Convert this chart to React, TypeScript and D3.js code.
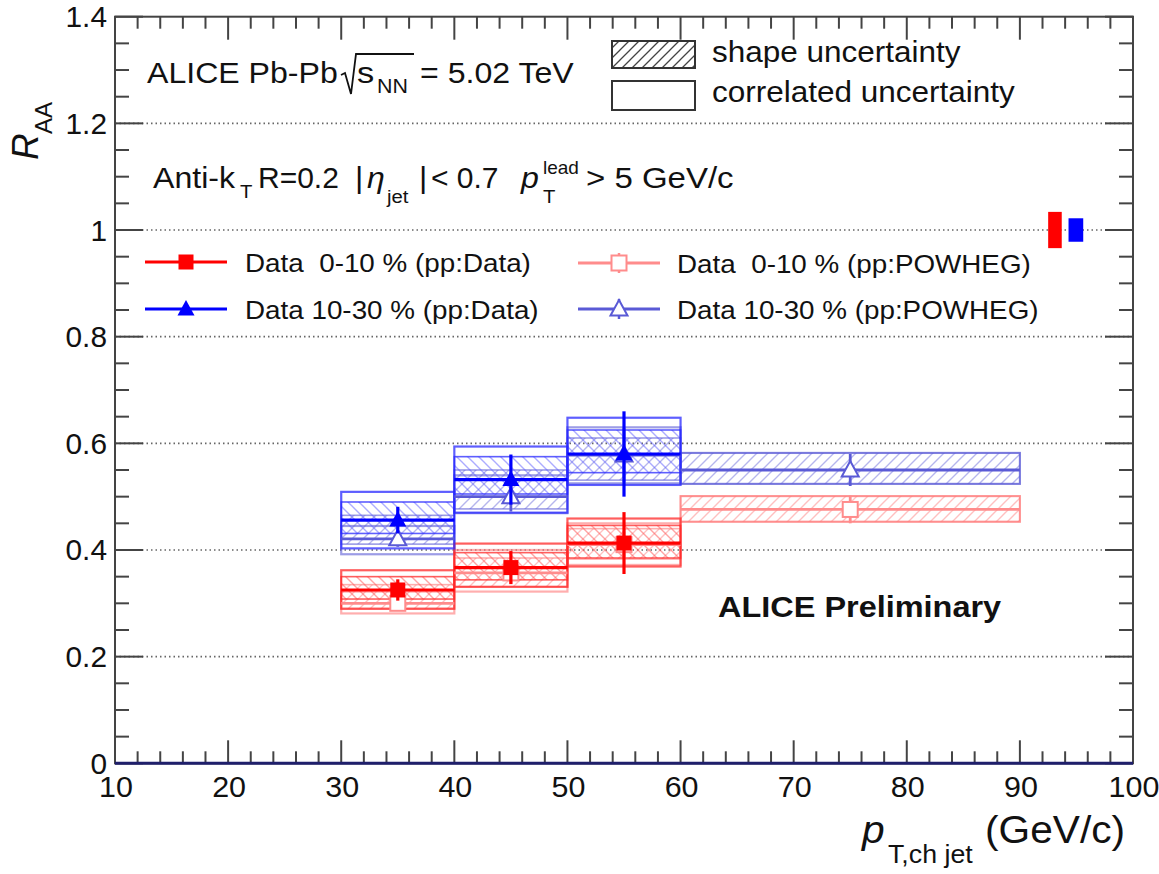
import React from 'react';
import * as d3 from 'd3';

const W = 1159;
const H = 874;

// ---- binning ----
const binLow = [30, 40, 50, 60];
const binHigh = [40, 50, 60, 90];
const binCenter = [35, 45, 55, 75];

// ---- 0-10 % (pp:Data) ----
const c010DataVal = [0.325, 0.367, 0.413];
const c010DataStat = [0.02, 0.031, 0.058];
const c010DataShapeLo = [0.308, 0.344, 0.385];
const c010DataShapeHi = [0.35, 0.395, 0.446];
const c010DataCorrLo = [0.29, 0.331, 0.369];
const c010DataCorrHi = [0.362, 0.412, 0.459];

// ---- 0-10 % (pp:POWHEG) ----
const c010PowVal = [0.3, 0.357, 0.41, 0.476];
const c010PowStat = [0.012, 0.02, 0.025, 0.026];
const c010PowShapeLo = [0.289, 0.331, 0.383, 0.453];
const c010PowShapeHi = [0.335, 0.385, 0.44, 0.501];
const c010PowCorrLo = [0.281, 0.322, 0.372, 0.453];
const c010PowCorrHi = [0.322, 0.4, 0.45, 0.501];

// ---- 10-30 % (pp:Data) ----
const c1030DataVal = [0.456, 0.532, 0.58];
const c1030DataStat = [0.025, 0.047, 0.08];
const c1030DataShapeLo = [0.431, 0.505, 0.545];
const c1030DataShapeHi = [0.49, 0.575, 0.625];
const c1030DataCorrLo = [0.403, 0.47, 0.522];
const c1030DataCorrHi = [0.509, 0.594, 0.648];

// ---- 10-30 % (pp:POWHEG) ----
const c1030PowVal = [0.421, 0.5, 0.578, 0.55];
const c1030PowStat = [0.015, 0.028, 0.05, 0.03];
const c1030PowShapeLo = [0.411, 0.477, 0.531, 0.524];
const c1030PowShapeHi = [0.465, 0.55, 0.61, 0.582];
const c1030PowCorrLo = [0.392, 0.469, 0.525, 0.524];
const c1030PowCorrHi = [0.445, 0.54, 0.63, 0.582];

// ---- normalisation uncertainties at RAA = 1 ----
const normX = [93.1, 94.95];
const normHalfW = [0.6, 0.65];
const normErr = [0.034, 0.022];
const normColor = ['#ff0000', '#0000ff'];

// ---- axes ----
const xTickValues = [10, 20, 30, 40, 50, 60, 70, 80, 90, 100];
const xTickLabels = ['10', '20', '30', '40', '50', '60', '70', '80', '90', '100'];
const yTickValues = [0, 0.2, 0.4, 0.6, 0.8, 1.0, 1.2, 1.4];
const yTickLabels = ['0', '0.2', '0.4', '0.6', '0.8', '1', '1.2', '1.4'];
const gridValues = [0.2, 0.4, 0.6, 0.8, 1.0, 1.2];

const legendLabels = [
  'Data  0-10 % (pp:Data)',
  'Data 10-30 % (pp:Data)',
  'Data  0-10 % (pp:POWHEG)',
  'Data 10-30 % (pp:POWHEG)',
];

const x = d3.scaleLinear().domain([10, 100]).range([115, 1133]);
const y = d3.scaleLinear().domain([0, 1.4]).range([763.3, 16.7]);

const FONT = "'Liberation Sans', Arial, Helvetica, sans-serif";

type Series = {
  val: number[];
  stat: number[];
  shLo: number[];
  shHi: number[];
  coLo: number[];
  coHi: number[];
  line: string;
  box: string;
  pattern: string;
  marker: 'sq' | 'tri';
  open: boolean;
  lw: number;
};

const sRedData: Series = {
  val: c010DataVal, stat: c010DataStat, shLo: c010DataShapeLo, shHi: c010DataShapeHi,
  coLo: c010DataCorrLo, coHi: c010DataCorrHi, line: '#ff0000', box: 'rgba(255,40,40,0.75)',
  pattern: 'hRedData', marker: 'sq', open: false, lw: 3.2,
};
const sRedPow: Series = {
  val: c010PowVal, stat: c010PowStat, shLo: c010PowShapeLo, shHi: c010PowShapeHi,
  coLo: c010PowCorrLo, coHi: c010PowCorrHi, line: '#ff8c8c', box: 'rgba(255,120,120,0.6)',
  pattern: 'hRedPow', marker: 'sq', open: true, lw: 2.8,
};
const sBlueData: Series = {
  val: c1030DataVal, stat: c1030DataStat, shLo: c1030DataShapeLo, shHi: c1030DataShapeHi,
  coLo: c1030DataCorrLo, coHi: c1030DataCorrHi, line: '#0000ff', box: 'rgba(40,40,255,0.75)',
  pattern: 'hBlueData', marker: 'tri', open: false, lw: 3.2,
};
const sBluePow: Series = {
  val: c1030PowVal, stat: c1030PowStat, shLo: c1030PowShapeLo, shHi: c1030PowShapeHi,
  coLo: c1030PowCorrLo, coHi: c1030PowCorrHi, line: '#5a5ad6', box: 'rgba(90,90,214,0.6)',
  pattern: 'hBluePow', marker: 'tri', open: true, lw: 2.8,
};

function T(props: {
  x: number; y: number; size: number; sx?: number; anchor?: string;
  italic?: boolean; bold?: boolean; fill?: string; children: React.ReactNode;
}) {
  const { x: tx, y: ty, size, sx = 1.07, anchor = 'start', italic = false, bold = false, fill = '#111', children } = props;
  return (
    <text
      transform={`translate(${tx},${ty}) scale(${sx},1)`}
      fontSize={size}
      textAnchor={anchor as any}
      fontStyle={italic ? 'italic' : 'normal'}
      fontWeight={bold ? 'bold' : 'normal'}
      fill={fill}
      fontFamily={FONT}
      xmlSpace="preserve"
      style={{ whiteSpace: 'pre' }}
    >
      {children}
    </text>
  );
}

function Marker(props: { cx: number; cy: number; kind: 'sq' | 'tri'; open: boolean; color: string }) {
  const { cx, cy, kind, open, color } = props;
  if (kind === 'sq') {
    const s = 15;
    return (
      <rect x={cx - s / 2} y={cy - s / 2} width={s} height={s}
        fill={open ? '#fff' : color} stroke={color} strokeWidth={open ? 2 : 0} />
    );
  }
  const hw = 8.5;
  const pts = `${cx},${cy - 9} ${cx + hw},${cy + 6.5} ${cx - hw},${cy + 6.5}`;
  return <polygon points={pts} fill={open ? '#fff' : color} stroke={color} strokeWidth={open ? 2 : 0} />;
}

function Boxes({ s }: { s: Series }) {
  return (
    <g>
      {s.val.map((_, i) => (
        <g key={i}>
          <rect x={x(binLow[i])} width={x(binHigh[i]) - x(binLow[i])}
            y={y(s.shHi[i])} height={y(s.shLo[i]) - y(s.shHi[i])}
            fill={`url(#${s.pattern})`} stroke={s.box} strokeWidth={1.6} />
          <rect x={x(binLow[i])} width={x(binHigh[i]) - x(binLow[i])}
            y={y(s.coHi[i])} height={y(s.coLo[i]) - y(s.coHi[i])}
            fill="none" stroke={s.box} strokeWidth={2.2} />
        </g>
      ))}
    </g>
  );
}

function Points({ s }: { s: Series }) {
  return (
    <g>
      {s.val.map((v, i) => (
        <g key={i}>
          <line x1={x(binLow[i])} x2={x(binHigh[i])} y1={y(v)} y2={y(v)} stroke={s.line} strokeWidth={s.lw} />
          <line x1={x(binCenter[i])} x2={x(binCenter[i])} y1={y(v + s.stat[i])} y2={y(v - s.stat[i])}
            stroke={s.line} strokeWidth={s.lw} />
          <Marker cx={x(binCenter[i])} cy={y(v)} kind={s.marker} open={s.open} color={s.line} />
        </g>
      ))}
    </g>
  );
}

function Hatch({ id, color, dir, w = 1.4, size = 11 }: { id: string; color: string; dir: 'back' | 'fwd'; w?: number; size?: number }) {
  const d = dir === 'back'
    ? `M0,0 L${size},${size} M${-size / 2},${size / 2} L${size / 2},${size * 1.5} M${size / 2},${-size / 2} L${size * 1.5},${size / 2}`
    : `M0,${size} L${size},0 M${-size / 2},${size / 2} L${size / 2},${-size / 2} M${size / 2},${size * 1.5} L${size * 1.5},${size / 2}`;
  return (
    <pattern id={id} patternUnits="userSpaceOnUse" width={size} height={size}>
      <path d={d} stroke={color} strokeWidth={w} />
    </pattern>
  );
}

export default function App() {
  const xL = x(10), xR = x(100), yB = y(0), yT = y(1.4);
  const yMinor = d3.range(0, 1.4001, 0.05);
  const xMinor = d3.range(10, 100.001, 2);

  const legendRows = [
    { s: sRedData, lx1: 145, lx2: 227, mx: 186, ty: 262, tx: 245, label: legendLabels[0] },
    { s: sBlueData, lx1: 145, lx2: 227, mx: 186, ty: 309, tx: 245, label: legendLabels[1] },
    { s: sRedPow, lx1: 578, lx2: 660, mx: 619, ty: 263, tx: 677, label: legendLabels[2] },
    { s: sBluePow, lx1: 578, lx2: 660, mx: 619, ty: 309, tx: 677, label: legendLabels[3] },
  ];

  return (
    <svg width={W} height={H} style={{ position: 'absolute', left: 0, top: 0, background: '#fff' }}>
      <defs>
        <Hatch id="hRedData" color="rgba(255,90,90,0.55)" dir="back" />
        <Hatch id="hRedPow" color="rgba(255,130,130,0.5)" dir="fwd" />
        <Hatch id="hBlueData" color="rgba(90,90,255,0.5)" dir="back" />
        <Hatch id="hBluePow" color="rgba(110,110,220,0.5)" dir="fwd" />
        <Hatch id="hLegend" color="#444" dir="fwd" w={1.3} size={10} />
      </defs>
      <rect x={0} y={0} width={W} height={H} fill="#fff" />

      {/* grid */}
      {gridValues.map((g) => (
        <line key={g} x1={xL} x2={xR} y1={y(g)} y2={y(g)} stroke="#666" strokeWidth={1.6} strokeDasharray="1.5 3" />
      ))}

      {/* boxes */}
      <Boxes s={sRedPow} />
      <Boxes s={sBluePow} />
      <Boxes s={sRedData} />
      <Boxes s={sBlueData} />

      {/* points */}
      <Points s={sRedPow} />
      <Points s={sBluePow} />
      <Points s={sRedData} />
      <Points s={sBlueData} />

      {/* normalisation boxes */}
      {normX.map((nx, i) => (
        <rect key={i} x={x(nx - normHalfW[i])} width={x(nx + normHalfW[i]) - x(nx - normHalfW[i])}
          y={y(1 + normErr[i])} height={y(1 - normErr[i]) - y(1 + normErr[i])} fill={normColor[i]} />
      ))}

      {/* frame & ticks */}
      <rect x={xL} y={yT} width={xR - xL} height={yB - yT} fill="none" stroke="#444" strokeWidth={2} />
      {yMinor.map((v, i) => {
        const major = i % 4 === 0;
        const len = major ? 28 : 14;
        return (
          <g key={'y' + i}>
            <line x1={xL} x2={xL + len} y1={y(v)} y2={y(v)} stroke="#444" strokeWidth={2} />
            <line x1={xR} x2={xR - len} y1={y(v)} y2={y(v)} stroke="#444" strokeWidth={2} />
          </g>
        );
      })}
      {xMinor.map((v, i) => {
        const major = i % 5 === 0;
        const len = major ? 23 : 12;
        return (
          <g key={'x' + i}>
            <line x1={x(v)} x2={x(v)} y1={yB} y2={yB - len} stroke="#444" strokeWidth={2} />
            <line x1={x(v)} x2={x(v)} y1={yT} y2={yT + len} stroke="#444" strokeWidth={2} />
          </g>
        );
      })}
      <line x1={xL} x2={xR} y1={yB} y2={yB} stroke="#1f1f6b" strokeWidth={3} />

      {/* tick labels */}
      {yTickValues.map((v, i) => (
        <T key={'yl' + i} x={107} y={y(v) + 10.5} size={29} sx={1.03} anchor="end">{yTickLabels[i]}</T>
      ))}
      {xTickValues.map((v, i) => (
        <T key={'xl' + i} x={x(v) + 1} y={797} size={29} sx={1.05} anchor="middle">{xTickLabels[i]}</T>
      ))}

      {/* axis titles */}
      <g transform="translate(38,160) rotate(-90)">
        <text x={0} y={0} fontSize={37} fontStyle="italic" fontFamily={FONT} fill="#111">R</text>
        <text x={26} y={14} fontSize={24} fontFamily={FONT} fill="#111">AA</text>
      </g>
      <T x={862} y={843} size={38} italic>p</T>
      <T x={888} y={863} size={25}>T,ch jet</T>
      <T x={985} y={843} size={38}>(GeV/c)</T>

      {/* header text */}
      <T x={147} y={83} size={30}>ALICE Pb-Pb</T>
      <path d="M341,75 L345,73 L351,94 L356,54 L414,54" fill="none" stroke="#111" strokeWidth={1.8} />
      <T x={357} y={83} size={30} sx={1.15}>s</T>
      <T x={377} y={93} size={20}>NN</T>
      <T x={420} y={83} size={30}>= 5.02 TeV</T>

      <T x={153} y={188} size={30}>Anti-k</T>
      <T x={240} y={198} size={19}>T</T>
      <T x={258} y={188} size={30} sx={1.0}>R=0.2</T>
      <T x={355} y={188} size={30}>|</T>
      <T x={367} y={188} size={30} italic>η</T>
      <T x={387} y={203} size={19}>jet</T>
      <T x={419} y={188} size={30}>|</T>
      <T x={431} y={188} size={30} sx={1.0}>{'< 0.7'}</T>
      <T x={521} y={188} size={30} italic>p</T>
      <T x={543} y={174} size={19} sx={1.0}>lead</T>
      <T x={543} y={203} size={19}>T</T>
      <T x={586} y={188} size={30} sx={1.1}>{'> 5 GeV/c'}</T>

      {/* uncertainty legend */}
      <rect x={612} y={41} width={83} height={27} fill="url(#hLegend)" stroke="#333" strokeWidth={2} />
      <rect x={612} y={81} width={83} height={29} fill="#fff" stroke="#333" strokeWidth={2} />
      <T x={712} y={62} size={30} sx={1.05}>shape uncertainty</T>
      <T x={712} y={102} size={30} sx={1.05}>correlated uncertainty</T>

      {/* series legend */}
      {legendRows.map((r, i) => (
        <g key={'lg' + i}>
          <line x1={r.lx1} x2={r.lx2} y1={r.ty} y2={r.ty} stroke={r.s.line} strokeWidth={3} />
          {r.s.open && (
            <line x1={r.mx} x2={r.mx} y1={r.ty - 10} y2={r.ty + 10} stroke={r.s.line} strokeWidth={2.5} />
          )}
          <Marker cx={r.mx} cy={r.ty} kind={r.s.marker} open={r.s.open} color={r.s.line} />
          <T x={r.tx} y={r.ty + 10} size={26}>{r.label}</T>
        </g>
      ))}

      <T x={718} y={617} size={29} sx={1.12} bold>ALICE Preliminary</T>
    </svg>
  );
}
